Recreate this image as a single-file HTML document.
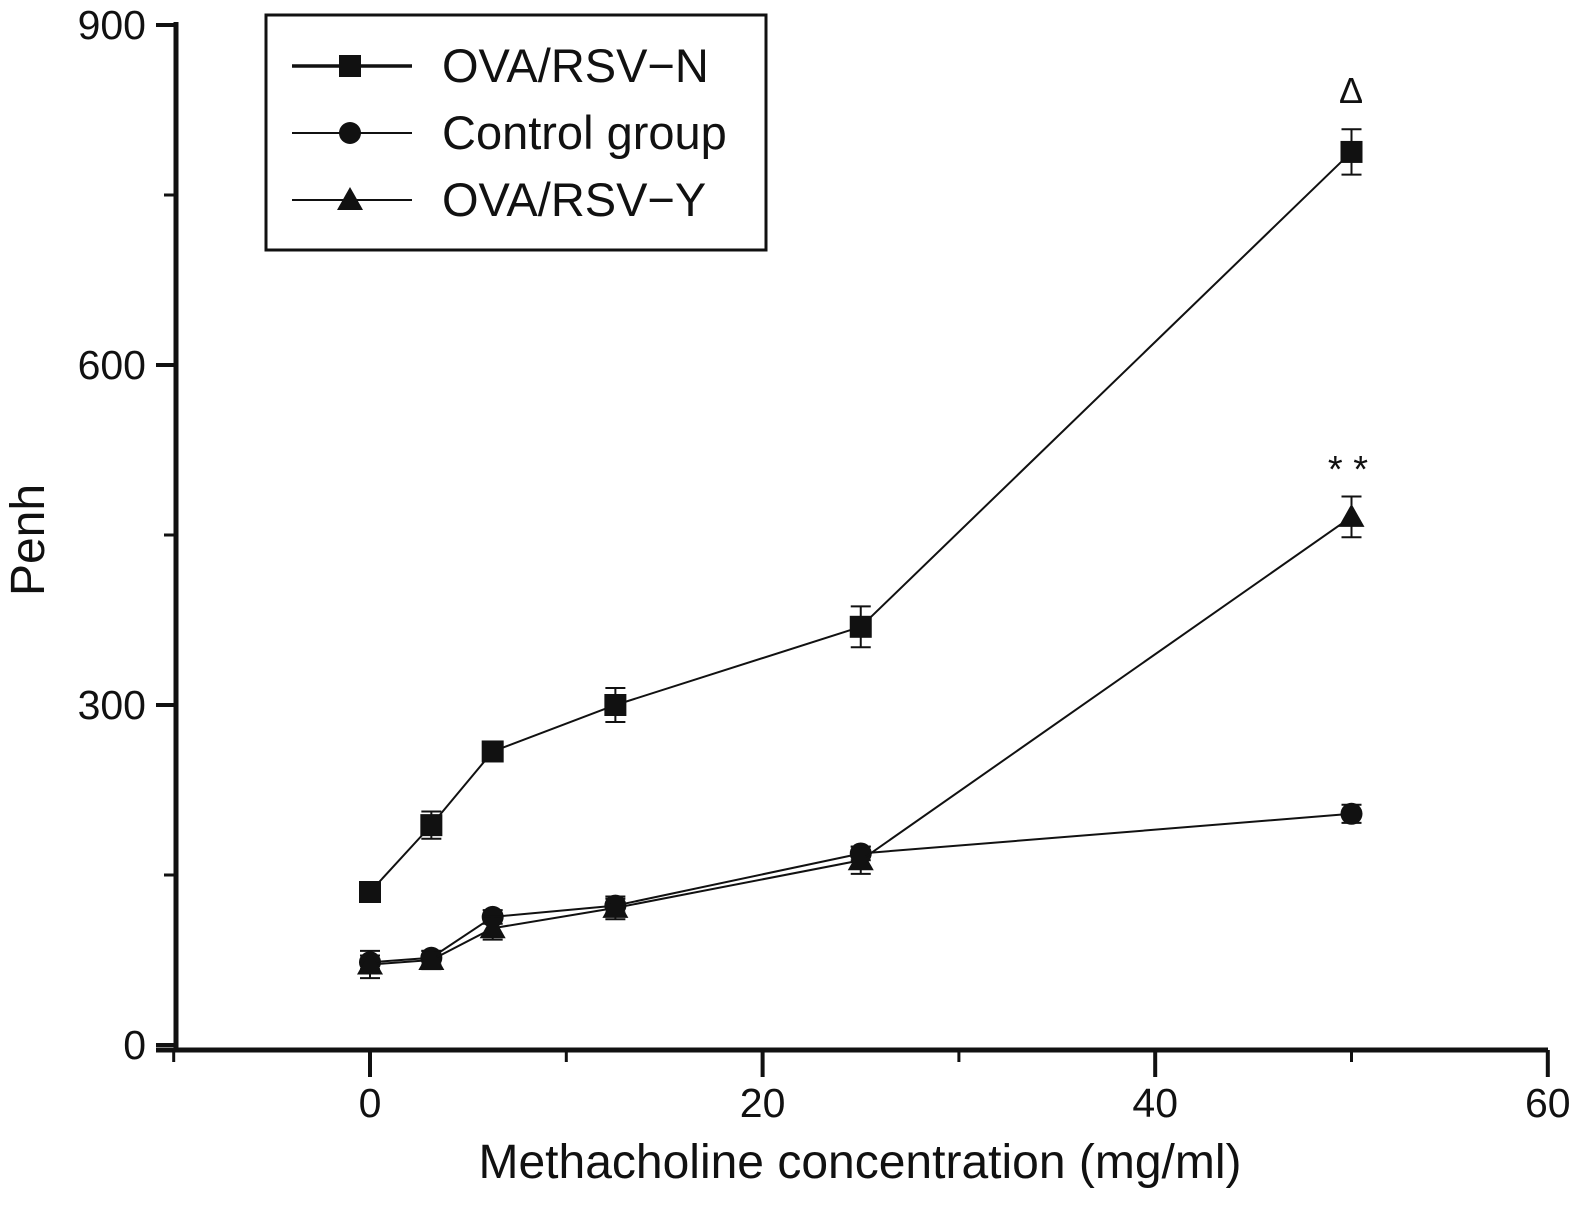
<!DOCTYPE html>
<html><head><meta charset="utf-8"><style>
html,body{margin:0;padding:0;background:#fff;overflow:hidden;width:1581px;height:1209px}
svg{display:block}
svg text{font-family:"Liberation Sans",sans-serif;fill:#111}
</style></head><body>
<svg width="1581" height="1209" xmlns="http://www.w3.org/2000/svg" id="c"></svg>
<script>
const xs=[0,3.125,6.25,12.5,25,50];
const seriesN=[135,194,259,300,369,788];
const errN=[6,12,8,15,18,20];
const seriesC=[73,77,113,123,169,204];
const errC=[6,6,6,6,6,8];
const seriesY=[71,75,103,121,163,466];
const errY=[12,8,10,10,12,18];
const xTicks=[0,20,40,60];
const xMinor=[-10,10,30,50];
const yTicks=[0,300,600,900];
const yMinor=[150,450,750];
const NS="http://www.w3.org/2000/svg";
const svg=document.getElementById('c');
const X=v=>370+(v)*19.63;
const Y=v=>1045-v*340/300;
function mk(t,a,name,parent){const e=document.createElementNS(NS,t);for(const k in a)e.setAttribute(k,a[k]);


(parent||svg).appendChild(e);return e;}
mk('line',{x1:176,y1:22,x2:176,y2:1052,stroke:'#111','stroke-width':5},'y-axis');
mk('line',{x1:156,y1:1050,x2:1548,y2:1050,stroke:'#111','stroke-width':5},'x-axis');
xTicks.forEach(v=>{mk('line',{x1:X(v),y1:1050,x2:X(v),y2:1077,stroke:'#111','stroke-width':4},'x-tick');
const t=mk('text',{x:X(v),y:1117,'font-size':41,'text-anchor':'middle'},'x-tick-label');t.textContent=v;});
xMinor.forEach(v=>mk('line',{x1:X(v),y1:1050,x2:X(v),y2:1062,stroke:'#111','stroke-width':3},'x-minor-tick'));
yTicks.forEach(v=>{mk('line',{x1:156,y1:Y(v),x2:176,y2:Y(v),stroke:'#111','stroke-width':4},'y-tick');
const t=mk('text',{x:146,y:Y(v)+14,'font-size':41,'text-anchor':'end'},'y-tick-label');t.textContent=v;});
yMinor.forEach(v=>mk('line',{x1:164,y1:Y(v),x2:176,y2:Y(v),stroke:'#111','stroke-width':3},'y-minor-tick'));
let t=mk('text',{x:860,y:1178,'font-size':48,'text-anchor':'middle'},'x-axis-title');t.textContent='Methacholine concentration (mg/ml)';
t=mk('text',{x:0,y:0,'font-size':48,'text-anchor':'middle',transform:'translate(44,540) rotate(-90)'},'y-axis-title');t.textContent='Penh';
function marker(shape,x,y,name){
 if(shape==='sq')mk('rect',{x:x-11,y:y-11,width:22,height:22,fill:'#111'},name);
 else if(shape==='ci')mk('circle',{cx:x,cy:y,r:11,fill:'#111'},name);
 else mk('polygon',{points:`${x},${y-13} ${x+13},${y+10} ${x-13},${y+10}`,fill:'#111'},name);}
function series(vals,errs,shape,name){
 mk('polyline',{points:xs.map((x,i)=>X(x)+','+Y(vals[i])).join(' '),fill:'none',stroke:'#111','stroke-width':2},name+'-line');
 xs.forEach((x,i)=>{const px=X(x),y1=Y(vals[i]+errs[i]),y2=Y(vals[i]-errs[i]);
  mk('line',{x1:px,y1:y1,x2:px,y2:y2,stroke:'#111','stroke-width':2},name+'-error-bar');
  mk('line',{x1:px-10,y1:y1,x2:px+10,y2:y1,stroke:'#111','stroke-width':2},name+'-error-cap');
  mk('line',{x1:px-10,y1:y2,x2:px+10,y2:y2,stroke:'#111','stroke-width':2},name+'-error-cap');
  marker(shape,px,Y(vals[i]),name+'-point');});}
series(seriesC,errC,'ci','control');
series(seriesY,errY,'tr','ova-rsv-y');
series(seriesN,errN,'sq','ova-rsv-n');
t=mk('text',{x:1351,y:103,'font-size':36,'text-anchor':'middle','font-family':'Liberation Serif'},'significance-delta');t.textContent='Δ';
t=mk('text',{x:1348,y:482,'font-size':38,'text-anchor':'middle','font-family':'Liberation Serif'},'significance-stars');t.textContent='* *';
const g=mk('g',{},'legend');
mk('rect',{x:266,y:15,width:500,height:235,fill:'#fff',stroke:'#111','stroke-width':3},'legend-box',g);
[['sq','OVA/RSV−N',66,3.5],['ci','Control group',133,2],['tr','OVA/RSV−Y',200,2]].forEach(([s,l,y,w])=>{
 const e=mk('g',{},'legend-entry',g);
 mk('line',{x1:292,y1:y,x2:412,y2:y,stroke:'#111','stroke-width':w},'legend-line',e);
 marker(s,350,y,'legend-marker');
 const tt=mk('text',{x:442,y:y+16,'font-size':47},'legend-label',e);tt.textContent=l;});
</script>
</body></html>
